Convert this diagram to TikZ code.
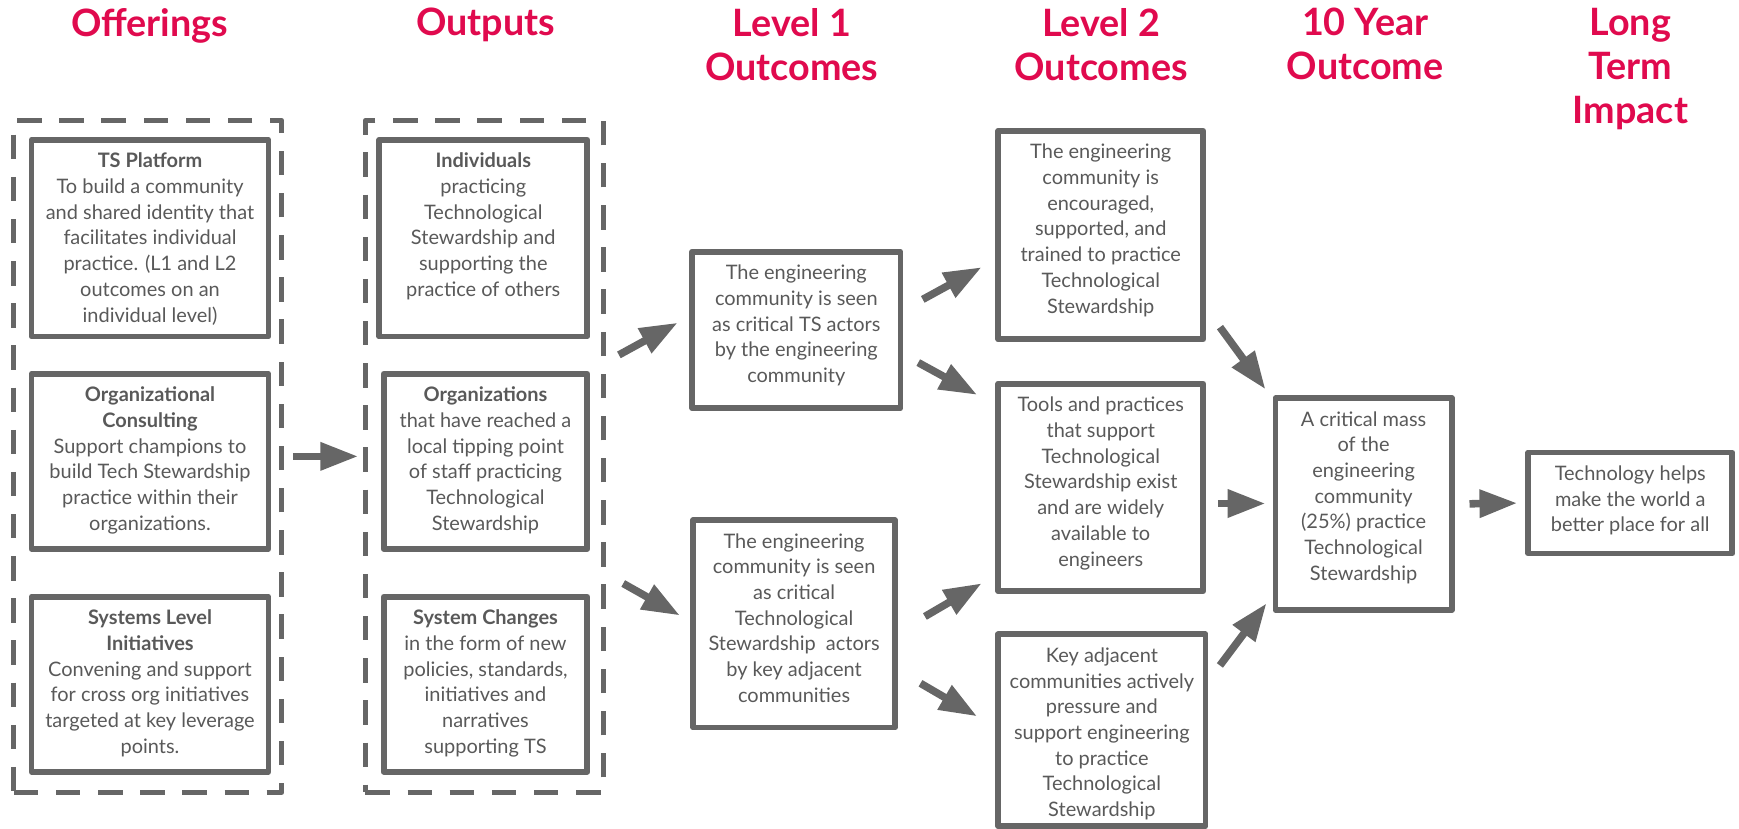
\documentclass[tikz,border=0pt]{standalone}
\usepackage{fontspec}
\setmainfont{Lato}
\usetikzlibrary{arrows.meta,calc,fit}
\definecolor{boxgray}{RGB}{102,102,102}
\definecolor{textgray}{RGB}{89,89,89}
\definecolor{headred}{RGB}{224,10,78}
\begin{document}
\begin{tikzpicture}[x=0.5pt,y=-0.5pt,
  box/.style={draw=boxgray, line width=2.6pt, inner sep=0pt, outer sep=0pt, line join=round},
  group/.style={draw=boxgray, line width=2.3pt, inner sep=0pt, outer sep=0pt,
    dash pattern=on 11pt off 8pt, line join=round},
  txt/.style={anchor=north, inner sep=0pt, align=center, text=textgray,
    font={\fontsize{9}{11.6}\selectfont}},
  head/.style={anchor=north, inner sep=0pt, align=center, text=headred,
    font={\bfseries\fontsize{17}{19.75}\selectfont}},
  arr/.style={draw=boxgray, line width=3.4pt, -{Triangle[length=17pt,width=12pt]}},
]
\useasboundingbox (0,0) rectangle (1568,747);

% column headings
\node[head] (hoff) at (135,7) {Offerings};
\node[head] (hout) at (438,7) {Outputs};
\node[head] (hl1) at (714,7) {Level 1\\Outcomes};
\node[head] (hl2) at (993,7) {Level 2\\Outcomes};
\node[head] (hten) at (1231,7) {10 Year\\Outcome};
\node[head] (hlt) at (1470,7) {Long\\Term\\Impact};

% dashed groups
\node[group, fit={(12.5,108.5) (254,714.5)}] (offdash) {};
\node[group, fit={(329.5,108.5) (544,714.5)}] (outdash) {};

% offerings
\node[box, fit={(28.5,126) (242,303.5)}] (ts) {};
\node[txt] (ts-t) at ($(ts.north)+(0,11.5)$) {\textbf{TS Platform}\\To build a community\\and shared identity that\\facilitates individual\\practice. (L1 and L2\\outcomes on an\\individual level)};
\node[box, fit={(28.5,337) (242,495)}] (orgc) {};
\node[txt] (orgc-t) at ($(orgc.north)+(0,11.5)$) {\textbf{Organizational}\\\textbf{Consulting}\\Support champions to\\build Tech Stewardship\\practice within their\\organizations.};
\node[box, fit={(28.5,538) (242,696)}] (sysl) {};
\node[txt] (sysl-t) at ($(sysl.north)+(0,11.5)$) {\textbf{Systems Level}\\\textbf{Initiatives}\\Convening and support\\for cross org initiatives\\targeted at key leverage\\points.};

% outputs
\node[box, fit={(342,126) (529.5,303.5)}] (indiv) {};
\node[txt] (indiv-t) at ($(indiv.north)+(0,11.5)$) {\textbf{Individuals}\\practicing\\Technological\\Stewardship and\\supporting the\\practice of others};
\node[box, fit={(346,337) (529.5,495)}] (orgs) {};
\node[txt] (orgs-t) at ($(orgs.north)+(0,11.5)$) {\textbf{Organizations}\\that have reached a\\local tipping point\\of staff practicing\\Technological\\Stewardship};
\node[box, fit={(346,538) (529.5,696)}] (sysc) {};
\node[txt] (sysc-t) at ($(sysc.north)+(0,11.5)$) {\textbf{System Changes}\\in the form of new\\policies, standards,\\initiatives and\\narratives\\supporting TS};

% level 1 outcomes
\node[box, fit={(624,227) (812,368)}] (l1a) {};
\node[txt] (l1a-t) at ($(l1a.north)+(0,11.5)$) {The engineering\\community is seen\\as critical TS actors\\by the engineering\\community};
\node[box, fit={(625,469) (807,656)}] (l1b) {};
\node[txt] (l1b-t) at ($(l1b.north)+(0,11.5)$) {The engineering\\community is seen\\as critical\\Technological\\Stewardship\ \ actors\\by key adjacent\\communities};

% level 2 outcomes
\node[box, fit={(900,118) (1085,306)}] (l2a) {};
\node[txt] (l2a-t) at ($(l2a.north)+(0,11.5)$) {The engineering\\community is\\encouraged,\\supported, and\\trained to practice\\Technological\\Stewardship};
\node[box, fit={(900,346) (1085,533)}] (l2b) {};
\node[txt] (l2b-t) at ($(l2b.north)+(0,11.5)$) {Tools and practices\\that support\\Technological\\Stewardship exist\\and are widely\\available to\\engineers};
\node[box, fit={(900,572) (1087,745)}] (l2c) {};
\node[txt] (l2c-t) at ($(l2c.north)+(0,11.5)$) {Key adjacent\\communities actively\\pressure and\\support engineering\\to practice\\Technological\\Stewardship};

% ten year outcome and long term impact
\node[box, fit={(1150,359) (1309,550)}] (ten) {};
\node[txt] (ten-t) at ($(ten.north)+(0,11.5)$) {A critical mass\\of the\\engineering\\community\\(25\%) practice\\Technological\\Stewardship};
\node[box, fit={(1378,408) (1562,499)}] (lt) {};
\node[txt] (lt-t) at ($(lt.north)+(0,11.5)$) {Technology helps\\make the world a\\better place for all};

% connectors
\draw[arr, shorten <=5pt, shorten >=3.3pt] (offdash.east) -- (outdash.west);
\draw[arr, shorten <=8pt, shorten >=7.4pt] ($(outdash.east)+(0,-83.8)$) -- ($(l1a.west)+(0,-13.6)$);
\draw[arr, shorten <=10.3pt, shorten >=6.9pt] ($(outdash.east)+(0,104.5)$) -- ($(l1b.west)+(0,-0.8)$);
\draw[arr, shorten <=11.4pt, shorten >=8.5pt] ($(l1a.east)+(0,-16.6)$) -- ($(l2a.west)+(0,20.8)$);
\draw[arr, shorten <=9.1pt, shorten >=10.8pt] ($(l1a.east)+(0,20.7)$) -- ($(l2b.west)+(0,-73.1)$);
\draw[arr, shorten <=15.6pt, shorten >=8.6pt] ($(l1b.east)+(0,9.1)$) -- ($(l2b.west)+(0,77.8)$);
\draw[arr, shorten <=13.3pt, shorten >=11pt] ($(l1b.east)+(0,40.2)$) -- ($(l2c.west)+(0,-1.5)$);
\draw[arr, shorten <=12.7pt, shorten >=7.6pt] ($(l2a.east)+(0,62.5)$) -- ($(ten.west)+(0,-91.2)$);
\draw[arr, shorten <=6.5pt, shorten >=4.5pt] ($(l2b.east)+(0,14.5)$) -- ($(ten.west)+(0,-0.5)$);
\draw[arr, shorten <=10.8pt, shorten >=6.7pt] ($(l2c.east)+(0,-41.2)$) -- ($(ten.west)+(0,78.8)$);
\draw[arr, shorten <=8pt, shorten >=5pt] (ten.east) -- (lt.west);
\end{tikzpicture}
\end{document}
